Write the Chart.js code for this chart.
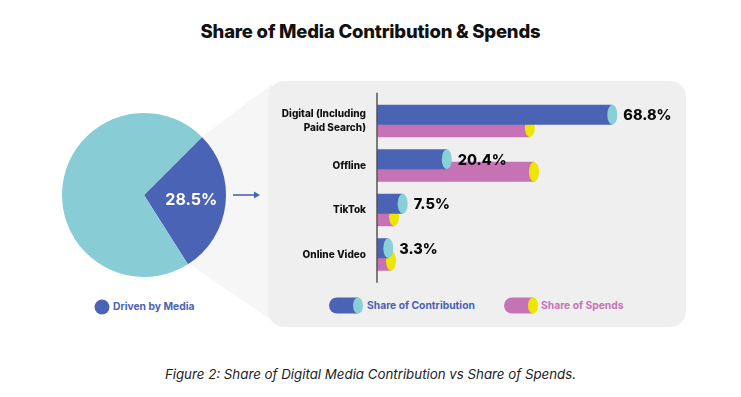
<!DOCTYPE html>
<html>
<head>
<meta charset="utf-8">
<script src="https://cdn.jsdelivr.net/npm/chart.js@4/dist/chart.umd.min.js"></script>
<style>
  body { margin: 0; background: #fff; font-family: Inter, "Liberation Sans", sans-serif; }
  #wrap { position: relative; width: 741px; height: 397px; overflow: hidden; }
  .abs { position: absolute; }
  #title { left: 0; top: 20px; width: 741px; text-align: center; font-weight: 800; font-size: 18.5px; color: #111; letter-spacing: -0.2px; }
  #caption { left: 0; top: 366px; width: 741px; text-align: center; font-style: italic; font-size: 13.3px; color: #222; }
  #panel { left: 268px; top: 81px; width: 418px; height: 246px; border-radius: 16px; background: #efeff0; }
  .leg { font-weight: 700; font-size: 10.3px; }
</style>
</head>
<body>
<div id="wrap">
  <svg class="abs" style="left:0;top:0" width="741" height="397">
    <polygon points="144,195 202,137 272,84 280,326 188,263" fill="#f6f6f7"/>
  </svg>
  <div id="panel" class="abs"></div>
  <svg class="abs" style="left:0;top:0" width="741" height="397">
    <line x1="233" y1="195" x2="257" y2="195" stroke="#4a63b5" stroke-width="1.6"/>
    <polygon points="260,195 254,191.5 254,198.5" fill="#4a63b5"/>
    <circle cx="102" cy="307" r="7.5" fill="#4a63b5"/>
    <path d="M337,297.5 H358 V313.5 H337 A8,8 0 0 1 337,297.5 Z" fill="#4a63b5"/>
    <ellipse cx="358" cy="305.5" rx="5" ry="8" fill="#88cfd6"/>
    <path d="M512,297.5 H533 V313.5 H512 A8,8 0 0 1 512,297.5 Z" fill="#c872b6"/>
    <ellipse cx="533" cy="305.5" rx="5" ry="8" fill="#eee600"/>
  </svg>
  <div id="title" class="abs">Share of Media Contribution &amp; Spends</div>
  <div class="abs leg" style="left:113px;top:300px;color:#4a63b5">Driven by Media</div>
  <div class="abs leg" style="left:367px;top:299px;color:#4a63b5">Share of Contribution</div>
  <div class="abs leg" style="left:541px;top:299px;color:#c872b6">Share of Spends</div>
  <div class="abs" style="left:54px;top:105px;width:180px;height:180px"><canvas id="pie"></canvas></div>
  <div class="abs" style="left:267px;top:80px;width:420px;height:250px"><canvas id="bars"></canvas></div>
  <div id="caption" class="abs">Figure 2: Share of Digital Media Contribution vs Share of Spends.</div>
</div>
<script>
const mediaLabels = ['Driven by Media', 'Other'];
const mediaShare = [28.5, 71.5];

const categories = [['Digital (Including', 'Paid Search)'], 'Offline', 'TikTok', 'Online Video'];
const contribution = [68.8, 20.4, 7.5, 3.3];
const spends = [44.7, 45.9, 5.0, 4.1];

const blue = '#4a63b5', teal = '#88cfd6', pink = '#c872b6', yellow = '#eee600';

// white % label inside the media slice
const sliceLabel = {
  id: 'sliceLabel',
  afterDatasetsDraw(chart) {
    const arc = chart.getDatasetMeta(0).data[0];
    const mid = (arc.startAngle + arc.endAngle) / 2;
    const r = arc.outerRadius * 0.58;
    const ctx = chart.ctx;
    ctx.save();
    ctx.fillStyle = '#fff';
    ctx.font = '700 16px Inter, sans-serif';
    ctx.textAlign = 'center';
    ctx.textBaseline = 'middle';
    ctx.fillText(mediaShare[0] + '%', arc.x + Math.cos(mid) * r, arc.y + Math.sin(mid) * r);
    ctx.restore();
  }
};

new Chart(document.getElementById('pie'), {
  type: 'pie',
  data: {
    labels: mediaLabels,
    datasets: [{ data: mediaShare, backgroundColor: [blue, '#88cdd5'], borderWidth: 0 }]
  },
  options: {
    responsive: true,
    maintainAspectRatio: false,
    animation: false,
    rotation: 45,
    layout: { padding: 8 },
    plugins: { legend: { display: false }, tooltip: { enabled: false } }
  },
  plugins: [sliceLabel]
});

// cylinder end caps, drawn right after each dataset so overlaps stack correctly
const caps = {
  id: 'caps',
  afterDatasetDraw(chart, args) {
    const meta = args.meta;
    const color = meta.index === 0 ? teal : yellow;
    const ctx = chart.ctx;
    ctx.save();
    ctx.fillStyle = color;
    meta.data.forEach(bar => {
      ctx.beginPath();
      ctx.ellipse(bar.x, bar.y, 5, bar.height / 2, 0, 0, Math.PI * 2);
      ctx.fill();
    });
    ctx.restore();
  },
  afterDatasetsDraw(chart) {
    const ctx = chart.ctx;
    const y = chart.scales.y;
    ctx.save();
    ctx.strokeStyle = '#555';
    ctx.lineWidth = 1.5;
    ctx.beginPath();
    ctx.moveTo(chart.chartArea.left, y.top - 6);
    ctx.lineTo(chart.chartArea.left, y.bottom + 6);
    ctx.stroke();
    ctx.fillStyle = '#0a0a0a';
    ctx.font = '800 14.5px Inter, sans-serif';
    ctx.textBaseline = 'middle';
    chart.getDatasetMeta(0).data.forEach((bar, i) => {
      ctx.fillText(contribution[i] + '%', bar.x + 11, bar.y + 1);
    });
    ctx.restore();
  }
};

new Chart(document.getElementById('bars'), {
  type: 'bar',
  data: {
    labels: categories,
    datasets: [
      { label: 'Share of Contribution', data: contribution, backgroundColor: blue, order: 0,
        barPercentage: 1.6, categoryPercentage: 0.56 },
      { label: 'Share of Spends', data: spends, backgroundColor: pink, order: 1,
        barPercentage: 1.6, categoryPercentage: 0.56 }
    ]
  },
  options: {
    indexAxis: 'y',
    responsive: true,
    maintainAspectRatio: false,
    animation: false,
    layout: { padding: { left: 0, top: 18.75, bottom: 53.25, right: 36.4 } },
    scales: {
      x: { display: false, min: 0, max: 80 },
      y: {
        grid: { display: false, drawTicks: false },
        border: { display: false },
        ticks: { color: '#111', padding: 11, font: { family: 'Inter', weight: 800, size: 10, lineHeight: 1.4 } },
        afterFit(scale) { scale.width = 110; }
      }
    },
    plugins: { legend: { display: false }, tooltip: { enabled: false } }
  },
  plugins: [caps]
});
</script>
</body>
</html>
